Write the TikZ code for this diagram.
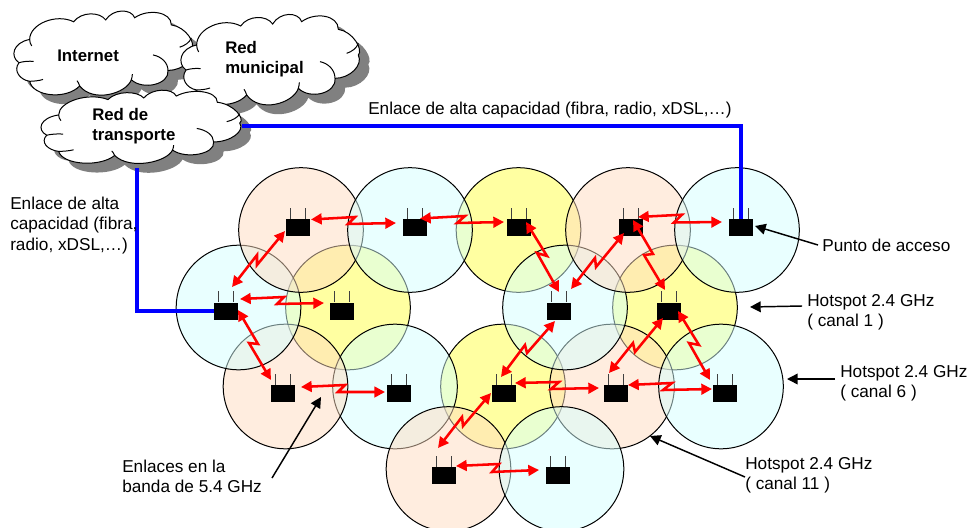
\documentclass[tikz,border=0pt]{standalone}
\usepackage{fontspec}
\setmainfont{Liberation Sans}
\usetikzlibrary{calc,arrows.meta}
\definecolor{corange}{HTML}{FFDDC0}
\definecolor{cblue}{HTML}{D5FFFF}
\definecolor{cyellow}{HTML}{FFFF44}
\tikzset{
  cell/.style={draw=black,line width=0.75pt,fill opacity=0.5},
  routerbox/.style={fill=black,draw=none,minimum width=18pt,minimum height=12.75pt,inner sep=0pt},
  antenna/.style={draw=black!75,line width=0.75pt},
  radiolink/.style={draw=red,line width=1.9pt,{Triangle[length=8pt,width=8pt]}-{Triangle[length=8pt,width=8pt]}},
  backhaul/.style={draw=blue,line width=2.5pt},
  pointer/.style={draw=black,line width=1.1pt,-{Triangle[length=8pt,width=8pt]}},
  note/.style={font=\fontsize{12.9pt}{15.2pt}\selectfont,align=left,inner sep=0pt},
  cloudlabel/.style={font=\bfseries\fontsize{12.6pt}{15pt}\selectfont,align=left,inner sep=0pt},
}
\newcommand{\cellat}[3]{\draw[cell,fill=#1] (#2,#3) circle (62.3);}
\newcommand{\routerat}[3]{%
  \node[routerbox] (#1) at (#2,#3) {};
  \draw[antenna] ($(#1.north west)+(4.3,0)$) -- +(0,-11);
  \draw[antenna] ($(#1.north east)+(-4.3,0)$) -- +(0,-11);}
% \zig{from}{offset}{kink}{kink}{to}{offset}
\newcommand{\zig}[6]{\draw[radiolink] ($(#1)+(#2)$) -- (#3) -- (#4) -- ($(#5)+(#6)$);}
\newcommand{\cloudpath}{%
 (590,135) .. controls (590,85) and (670,50) .. (722,78)
 .. controls (745,45) and (800,45) .. (818,72)
 .. controls (840,35) and (895,35) .. (905,65)
 .. controls (945,35) and (1015,45) .. (1015,88)
 .. controls (1060,95) and (1090,150) .. (1075,165)
 .. controls (1090,195) and (1050,235) .. (1005,235)
 .. controls (1010,280) and (930,300) .. (895,265)
 .. controls (880,310) and (780,340) .. (740,285)
 .. controls (700,330) and (600,320) .. (590,270)
 .. controls (560,265) and (540,235) .. (558,210)
 .. controls (530,190) and (540,145) .. (590,135) -- cycle}
\newcommand{\cloudat}[5]{% name, dx, dy, sx, sy
 \begin{scope}[shift={(#2,#3)},x=#4*0.25pt,y=-#5*0.25pt]
  \fill[black!50,shift={(7.5pt,-7pt)}] \cloudpath;
  \filldraw[fill=white,draw=black,line width=0.75pt] \cloudpath;
  \draw[line width=0.75pt] (960,185) .. controls (985,190) and (1005,210) .. (1005,235);
  \draw[line width=0.75pt] (1075,130) .. controls (1070,145) and (1055,155) .. (1040,160);
  \draw[line width=0.75pt] (590,135) .. controls (590,142) and (592,150) .. (596,156);
  \draw[line width=0.75pt] (558,210) .. controls (570,206) and (590,204) .. (602,206);
  \draw[line width=0.75pt] (590,270) .. controls (600,270) and (620,268) .. (630,264);
  \draw[line width=0.75pt] (740,285) .. controls (738,278) and (735,272) .. (732,268);
  \draw[line width=0.75pt] (895,265) .. controls (897,258) and (898,252) .. (898,247);
 \end{scope}}
\begin{document}
\begin{tikzpicture}[x=0.75pt,y=-0.75pt]
\useasboundingbox (0,0) rectangle (967,528);
\fill[white] (0,0) rectangle (967,528);
% hotspot cells
\cellat{cyellow}{348}{307.5}
\cellat{cyellow}{518.5}{230}
\cellat{cyellow}{675}{307.5}
\cellat{cyellow}{503}{386.5}
\cellat{cblue}{395}{386.5}
\cellat{corange}{285.5}{386.5}
\cellat{cblue}{238.5}{307.5}
\cellat{corange}{301}{230}
\cellat{cblue}{410}{230}
\cellat{corange}{612}{386.5}
\cellat{cblue}{721}{386.5}
\cellat{cblue}{565}{307.5}
\cellat{corange}{628}{230}
\cellat{cblue}{737}{230}
\cellat{corange}{448.5}{469}
\cellat{cblue}{561.5}{469}
% clouds
\cloudat{inet}{-167}{-2.4}{1}{0.93}
\cloudat{muni}{0}{0}{1}{1}
\cloudat{trans}{-161.6}{78.5}{1.12}{0.81}
\node[cloudlabel,anchor=west] (linet) at (57,56) {Internet};
\node[cloudlabel,anchor=north west] (lmuni) at (225,41) {Red\\municipal};
\node[cloudlabel,anchor=north west] (ltrans) at (92,108) {Red de\\transporte};
% routers
\routerat{r1}{298}{227.5}
\routerat{r2}{415}{227.5}
\routerat{r3}{519}{227.5}
\routerat{r4}{631}{227.5}
\routerat{r5}{741}{227.5}
\routerat{r6}{226}{311}
\routerat{r7}{342}{311}
\routerat{r8}{559}{311}
\routerat{r9}{669}{311}
\routerat{r10}{283}{393.5}
\routerat{r11}{399}{393.5}
\routerat{r12}{504}{393.5}
\routerat{r13}{616}{393.5}
\routerat{r14}{725}{393.5}
\routerat{r15}{444}{475.5}
\routerat{r16}{558}{475.5}
% backhaul
\coordinate (tr1) at (242,126);
\coordinate (tr2) at (137,168);
\draw[backhaul] (tr1) -| (r5.north);
\draw[backhaul] (tr2) |- (r6.west);
% radio links
\zig{r1}{13,-8}{355,217}{348,224}{r2}{-19,-4.5}
\zig{r2}{5,-9}{465,216}{457,223}{r3}{-15,-5.5}
\zig{r4}{7,-10.5}{682,214.7}{674,222.5}{r5}{-19,-5.5}
\zig{r1}{-13,3.5}{257,265}{257,255}{r6}{6,-24}
\zig{r6}{14,-12}{284,297}{277,304}{r7}{-18,-8}
\zig{r6}{12,-1}{258,344}{249,343}{r10}{-12,-13.5}
\zig{r10}{18,-6.5}{345,385}{338,392}{r11}{-14,-1.5}
\zig{r3}{7,-5.5}{547,256}{537,253}{r8}{0,-19}
\zig{r4}{-7,5.5}{596,267}{595,258}{r8}{12,-22}
\zig{r4}{2,-7.5}{653,254}{644,255}{r9}{-4,-21}
\zig{r8}{-4,10}{527,353}{525,345}{r12}{-3,-16.5}
\zig{r9}{-6,7}{635,352}{633,343}{r13}{-7,-20.5}
\zig{r9}{9,0}{699,345}{689,343}{r14}{-15,-13.5}
\zig{r12}{11,-10.5}{559,382}{551,389}{r13}{-17,-5.5}
\zig{r13}{12,-8.5}{672,383}{663,390}{r14}{-13,-4.5}
\zig{r12}{-13,-0.5}{463,426}{462,417}{r15}{-6,-27.5}
\zig{r15}{12,-9.5}{499,464}{492,472}{r16}{-19,-5.5}
% labels
\node[note,anchor=west] (t1) at (368,110) {Enlace de alta capacidad (fibra, radio, xDSL,…)};
\node[note,anchor=north west] (t2) at (10,197) {Enlace de alta\\capacidad (fibra,\\radio, xDSL,…)};
\node[note,anchor=west] (t3) at (822,245.5) {Punto de acceso};
\node[note,anchor=north west] (t4) at (807,294) {Hotspot 2.4 GHz\\( canal 1 )};
\node[note,anchor=north west] (t5) at (840,365) {Hotspot 2.4 GHz\\( canal 6 )};
\node[note,anchor=north west] (t6) at (745,457) {Hotspot 2.4 GHz\\( canal 11 )};
\node[note,anchor=north west] (t7) at (122,459.5) {Enlaces en la\\banda de 5.4 GHz};
\coordinate (p3) at (818,245);
\coordinate (p4) at (802,306);
\coordinate (p5) at (835,379);
\coordinate (p6) at (745,477);
\coordinate (p7) at (272,478);
\draw[pointer] (p3) -- (755,226);
\draw[pointer] (p4) -- (750,307);
\draw[pointer] (p5) -- (787,379);
\draw[pointer] (p6) -- (650,436);
\draw[pointer] (p7) -- (321,397);
\end{tikzpicture}
\end{document}
